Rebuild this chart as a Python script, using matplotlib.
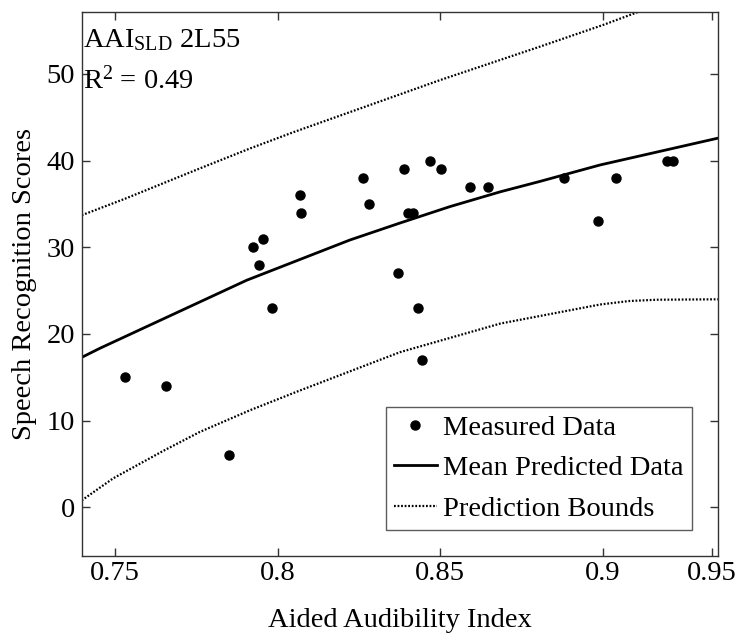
import matplotlib
matplotlib.use("Agg")
import matplotlib.pyplot as plt

plt.rcParams['font.family'] = ['Liberation Serif', 'DejaVu Serif']
plt.rcParams['mathtext.fontset'] = 'custom'
plt.rcParams['mathtext.rm'] = 'Liberation Serif'
plt.rcParams['mathtext.it'] = 'Liberation Serif:italic'

# Measured data
meas_x = [0.7531, 0.7657, 0.7851, 0.7923, 0.7944, 0.7956, 0.7983, 0.8069, 0.8072,
          0.8261, 0.8281, 0.8369, 0.8388, 0.8400, 0.8415, 0.8432, 0.8443, 0.8468,
          0.8501, 0.8591, 0.8645, 0.8880, 0.8984, 0.9040, 0.9197, 0.9215]
meas_y = [15, 14, 6, 30, 28, 31, 23, 36, 34,
          38, 35, 27, 39, 34, 34, 23, 17, 40,
          39, 37, 37, 38, 33, 38, 40, 40]

# Mean predicted curve
mean_x = [0.7398, 0.7454, 0.7905, 0.8222, 0.8376, 0.8530, 0.8684, 0.8806, 0.8991, 0.9354]
mean_y = [17.3, 18.35, 26.2, 30.84, 32.8, 34.7, 36.4, 37.6, 39.5, 42.6]

# Prediction bounds
upper_x = [0.7398, 0.7531, 0.7761, 0.7915, 0.8050, 0.8500, 0.8806, 0.9000, 0.9104, 0.9354]
upper_y = [33.7, 35.6, 39.1, 41.4, 43.3, 49.3, 53.15, 55.65, 57.1, 60.5]
lower_x = [0.7398, 0.7495, 0.7648, 0.7761, 0.7915, 0.8063, 0.8376, 0.8684, 0.8991, 0.9080, 0.9165, 0.9354]
lower_y = [0.8, 3.35, 6.5, 8.7, 11.2, 13.4, 17.9, 21.2, 23.4, 23.8, 23.95, 24.0]

xtick_pos = [0.75, 0.80, 0.85, 0.90, 0.9334]
xtick_labels = ['0.75', '0.8', '0.85', '0.9', '0.95']
ytick_pos = [0, 10, 20, 30, 40, 50]
ytick_labels = ['0', '10', '20', '30', '40', '50']

W, H = 739, 642
fig = plt.figure(figsize=(W / 100, H / 100), dpi=100)
ax = fig.add_axes([81.7 / W, (H - 555.7) / H, 636.6 / W, 543.4 / H])

fs = 20.5
ax.plot(meas_x, meas_y, 'o', color='black', markersize=6.5, label='Measured Data', zorder=3)
ax.plot(mean_x, mean_y, '-', color='black', linewidth=2.0, label='Mean Predicted Data')
ax.plot(upper_x, upper_y, color='black', linewidth=1.6, linestyle=(0, (0.8, 0.8)),
        label='Prediction Bounds')
ax.plot(lower_x, lower_y, color='black', linewidth=1.6, linestyle=(0, (0.8, 0.8)))

ax.set_xlim(0.7398, 0.9354)
ax.set_ylim(-5.58, 57.11)
ax.set_xticks(xtick_pos)
ax.set_xticklabels(xtick_labels)
ax.set_yticks(ytick_pos)
ax.set_yticklabels(ytick_labels)
ax.tick_params(direction='in', top=True, right=True, length=6, width=1,
               color='#333333', labelsize=fs)
ax.tick_params(axis='x', pad=4)
ax.tick_params(axis='y', pad=5)
for s in ax.spines.values():
    s.set_color('#333333')
    s.set_linewidth(1.0)

ax.set_xlabel('Aided Audibility Index', fontsize=fs, labelpad=16)
ax.set_ylabel('Speech Recognition Scores', fontsize=fs, labelpad=7)

ax.text(0.0016, 0.9367, r'AAI$_{\mathrm{SLD}}$ 2L55', transform=ax.transAxes,
        fontsize=fs, va='baseline', ha='left')
ax.text(0.0016, 0.860, r'R$^{2}$ = 0.49', transform=ax.transAxes,
        fontsize=fs, va='baseline', ha='left')

leg = ax.legend(loc='lower right', bbox_to_anchor=(0.958, 0.047), borderaxespad=0,
                fontsize=fs, frameon=True, fancybox=False, handlelength=1.5,
                handletextpad=0.2, labelspacing=0.5, borderpad=0.3)
leg.get_frame().set_edgecolor('#333333')
leg.get_frame().set_linewidth(1.0)

fig.savefig('out.png', dpi=100)
